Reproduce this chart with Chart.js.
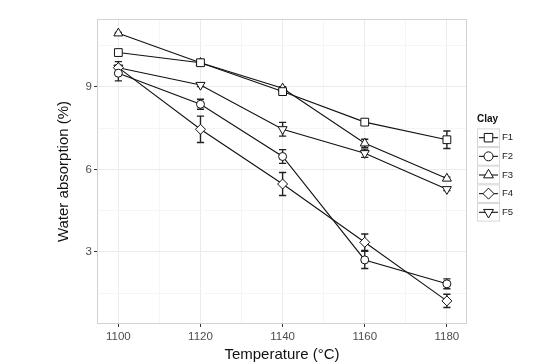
<!DOCTYPE html>
<html>
<head>
<meta charset="utf-8">
<script src="https://cdn.jsdelivr.net/npm/chart.js@4/dist/chart.umd.min.js"></script>
<style>
  html, body { margin: 0; padding: 0; background: #ffffff; }
  #chart { display: block; }
</style>
</head>
<body>
<canvas id="chart" width="533" height="364"></canvas>
<script>
// temperatures on the x axis
const temperatures = [1100, 1120, 1140, 1160, 1180];

// water absorption (%) per clay
const f1Values = [10.25, 9.88, 8.83, 7.72, 7.08];
const f2Values = [9.50, 8.37, 6.47, 2.71, 1.84];
const f3Values = [10.95, 9.88, 8.95, 6.95, 5.67];
const f4Values = [9.70, 7.46, 5.47, 3.35, 1.22];
const f5Values = [9.70, 9.07, 7.46, 6.59, 5.28];

// half-length of the error bars
const f1Errors = [0.06, 0.08, 0.06, 0.05, 0.32];
const f2Errors = [0.28, 0.18, 0.25, 0.31, 0.18];
const f3Errors = [0.03, 0.08, 0.06, 0.15, 0.05];
const f4Errors = [0.22, 0.48, 0.42, 0.30, 0.24];
const f5Errors = [0.05, 0.06, 0.25, 0.15, 0.05];

const clayNames = ['F1', 'F2', 'F3', 'F4', 'F5'];

// ticks (major ones get labels)
const xTicks = [1100, 1110, 1120, 1130, 1140, 1150, 1160, 1170, 1180];
const xLabels = [1100, 1120, 1140, 1160, 1180];
const yTicks = [1.5, 3, 4.5, 6, 7.5, 9, 10.5];
const yLabels = [3, 6, 9];

const allValues = [f1Values, f2Values, f3Values, f4Values, f5Values];
const allErrors = [f1Errors, f2Errors, f3Errors, f4Errors, f5Errors];

// marker shape per clay
const markers = [
    { style: 'rect', radius: 5.5, rotation: 0 },
    { style: 'circle', radius: 4, rotation: 0 },
    { style: 'triangle', radius: 5.2, rotation: 0 },
    { style: 'rectRot', radius: 5, rotation: 0 },
    { style: 'triangle', radius: 5.2, rotation: 180 }
];

const datasets = clayNames.map((name, i) => ({
    label: name,
    data: temperatures.map((t, j) => ({ x: t, y: allValues[i][j] })),
    errors: allErrors[i],
    borderColor: '#111111',
    borderWidth: 1.1,
    backgroundColor: '#ffffff',
    pointStyle: markers[i].style,
    pointRadius: markers[i].radius,
    pointRotation: markers[i].rotation,
    pointBackgroundColor: '#ffffff',
    pointBorderColor: '#111111',
    pointBorderWidth: 1,
    tension: 0,
    fill: false
}));

// error bars go under the points
const errorBarPlugin = {
    id: 'errorBars',
    beforeDatasetsDraw(chart) {
        const ctx = chart.ctx;
        const xs = chart.scales.x, ys = chart.scales.y;
        ctx.save();
        ctx.strokeStyle = '#222222';
        ctx.lineWidth = 1.4;
        chart.data.datasets.forEach(ds => {
            ds.data.forEach((p, j) => {
                const e = ds.errors[j];
                const px = xs.getPixelForValue(p.x);
                const top = ys.getPixelForValue(p.y + e);
                const bot = ys.getPixelForValue(p.y - e);
                ctx.beginPath();
                ctx.moveTo(px, top); ctx.lineTo(px, bot);
                ctx.moveTo(px - 3.6, top); ctx.lineTo(px + 3.6, top);
                ctx.moveTo(px - 3.6, bot); ctx.lineTo(px + 3.6, bot);
                ctx.stroke();
            });
        });
        ctx.restore();
    }
};

// panel border + legend on the right
const panelPlugin = {
    id: 'panel',
    afterDraw(chart) {
        const ctx = chart.ctx;
        const a = chart.chartArea;
        ctx.save();
        ctx.strokeStyle = '#d2d2d2';
        ctx.lineWidth = 1;
        ctx.strokeRect(a.left + 0.5, a.top + 0.5, a.right - a.left - 1, a.bottom - a.top - 1);

        // legend
        const lx = 477, firstY = 137.7, rowH = 18.65, keyW = 22, keyH = 17.6;
        ctx.fillStyle = '#111111';
        ctx.font = 'bold 10px "Liberation Sans", Arial, sans-serif';
        ctx.textBaseline = 'middle';
        ctx.textAlign = 'left';
        ctx.fillText('Clay', lx, 119);

        clayNames.forEach((name, i) => {
            const cy = firstY + i * rowH;
            ctx.fillStyle = '#ffffff';
            ctx.fillRect(lx, cy - keyH / 2, keyW, keyH);
            ctx.strokeStyle = '#d8d8d8';
            ctx.lineWidth = 1;
            ctx.strokeRect(lx + 0.5, cy - keyH / 2, keyW, keyH);

            ctx.strokeStyle = '#111111';
            ctx.lineWidth = 1.1;
            ctx.beginPath();
            ctx.moveTo(lx + 2, cy); ctx.lineTo(lx + keyW - 1, cy);
            ctx.stroke();

            ctx.fillStyle = '#ffffff';
            ctx.strokeStyle = '#111111';
            ctx.lineWidth = 1;
            Chart.helpers.drawPoint(ctx, {
                pointStyle: markers[i].style,
                radius: markers[i].radius + 0.5,
                rotation: markers[i].rotation,
                borderWidth: 1
            }, lx + keyW / 2 + 0.5, cy);

            ctx.fillStyle = '#1a1a1a';
            ctx.font = '9.5px "Liberation Sans", Arial, sans-serif';
            ctx.fillText(name, lx + keyW + 3, cy);
        });
        ctx.restore();
    }
};

Chart.defaults.font.family = '"Liberation Sans", Arial, sans-serif';

new Chart(document.getElementById('chart').getContext('2d'), {
    type: 'line',
    data: { datasets: datasets },
    options: {
        responsive: false,
        animation: false,
        layout: { padding: { left: 55, right: 66, top: 19, bottom: 0 } },
        plugins: {
            legend: { display: false },
            tooltip: { enabled: false }
        },
        scales: {
            x: {
                type: 'linear',
                min: 1094.8,
                max: 1184.9,
                afterBuildTicks: scale => { scale.ticks = xTicks.map(v => ({ value: v })); },
                afterFit: scale => { scale.height = 40; },
                border: { display: false },
                grid: {
                    color: c => (c.tick && xLabels.includes(c.tick.value)) ? '#ebebeb' : '#f5f5f5',
                    lineWidth: 1,
                    tickLength: 3,
                    tickColor: c => (c.tick && xLabels.includes(c.tick.value)) ? '#333333' : 'rgba(0,0,0,0)'
                },
                ticks: {
                    autoSkip: false,
                    maxRotation: 0,
                    padding: 3,
                    color: '#4d4d4d',
                    font: { size: 11.5 },
                    callback: v => xLabels.includes(v) ? String(v) : ''
                },
                title: {
                    display: true,
                    text: 'Temperature (°C)',
                    color: '#111111',
                    font: { size: 15 },
                    padding: { top: 0, bottom: 0 }
                }
            },
            y: {
                type: 'linear',
                min: 0.38,
                max: 11.47,
                afterBuildTicks: scale => { scale.ticks = yTicks.map(v => ({ value: v })); },
                afterFit: scale => { scale.width = 42; },
                border: { display: false },
                grid: {
                    color: c => (c.tick && yLabels.includes(c.tick.value)) ? '#ebebeb' : '#f5f5f5',
                    lineWidth: 1,
                    tickLength: 3,
                    tickColor: c => (c.tick && yLabels.includes(c.tick.value)) ? '#333333' : 'rgba(0,0,0,0)'
                },
                ticks: {
                    autoSkip: false,
                    padding: 2,
                    color: '#4d4d4d',
                    font: { size: 11.5 },
                    callback: v => yLabels.includes(v) ? String(v) : ''
                },
                title: {
                    display: true,
                    text: 'Water absorption (%)',
                    color: '#111111',
                    font: { size: 15 },
                    padding: { top: 0, bottom: 0 }
                }
            }
        }
    },
    plugins: [errorBarPlugin, panelPlugin]
});
</script>
</body>
</html>
